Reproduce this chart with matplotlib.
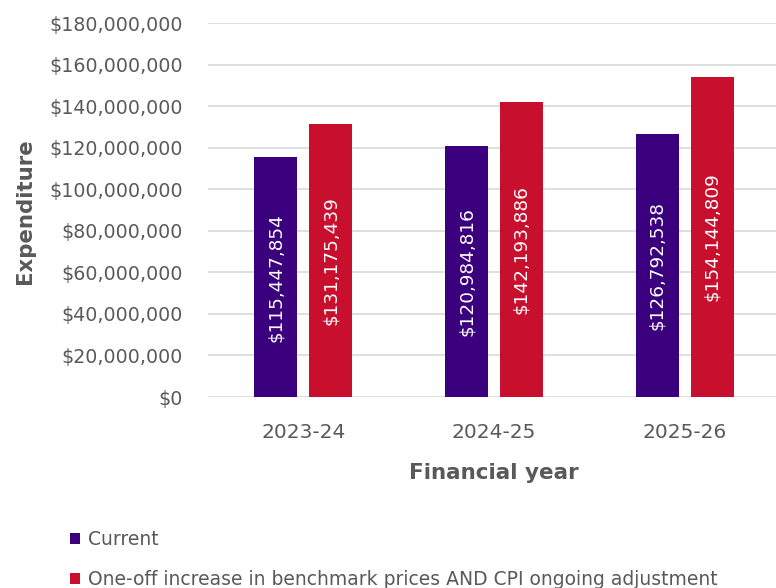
import matplotlib.pyplot as plt
import numpy as np

plt.rcParams['font.family'] = ['DejaVu Sans']

years = ["2023-24", "2024-25", "2025-26"]
current = [115447854, 120984816, 126792538]
increase = [131175439, 142193886, 154144809]
series_names = ["Current", "One-off increase in benchmark prices AND CPI ongoing adjustment"]
colors = ["#3B007E", "#C8102E"]
text_grey = "#595959"

fig = plt.figure(figsize=(7.76, 5.88), dpi=100)
ax = fig.add_axes([208 / 776, (588 - 397) / 588, 572 / 776, 374 / 588])

x = np.arange(len(years))
width = 0.226
offset = 0.144

bars_c = ax.bar(x - offset, current, width, color=colors[0], label=series_names[0], zorder=3)
bars_i = ax.bar(x + offset, increase, width, color=colors[1], label=series_names[1], zorder=3)

# value labels, rotated inside each bar
for bars, vals in ((bars_c, current), (bars_i, increase)):
    for b, v in zip(bars, vals):
        ax.text(b.get_x() + b.get_width() / 2, v / 2, f"${v:,}", rotation=90,
                ha="center", va="center", color="white", fontsize=13.3, zorder=4)

ax.set_xlim(-0.5, 2.5)
ax.set_ylim(0, 180e6)
ax.set_yticks(np.arange(0, 180e6 + 1, 20e6))
ax.yaxis.set_major_formatter(plt.FuncFormatter(lambda v, p: f"${v:,.0f}"))
ax.set_xticks(x)
ax.set_xticklabels(years)

ax.grid(axis="y", color="#d9d9d9", linewidth=1.2, zorder=0)
for s in ax.spines.values():
    s.set_visible(False)
ax.tick_params(axis="both", length=0, colors=text_grey)
ax.tick_params(axis="y", pad=18, labelsize=13.7)
ax.tick_params(axis="x", pad=19, labelsize=14.5)

ax.set_xlabel("Financial year", fontsize=15.5, fontweight="bold", color=text_grey, labelpad=14.5)
fig.text(25 / 776, 1 - 211 / 588, "Expenditure", rotation=90, ha="center", va="center",
         fontsize=15.3, fontweight="bold", color=text_grey)

fig.legend(loc="lower left", bbox_to_anchor=(53 / 776, -0.031), frameon=False,
           handlelength=0.55, handleheight=0.55, handletextpad=0.4, labelspacing=1.15,
           fontsize=13.5, labelcolor=text_grey)

fig.savefig("out.png", dpi=100)
